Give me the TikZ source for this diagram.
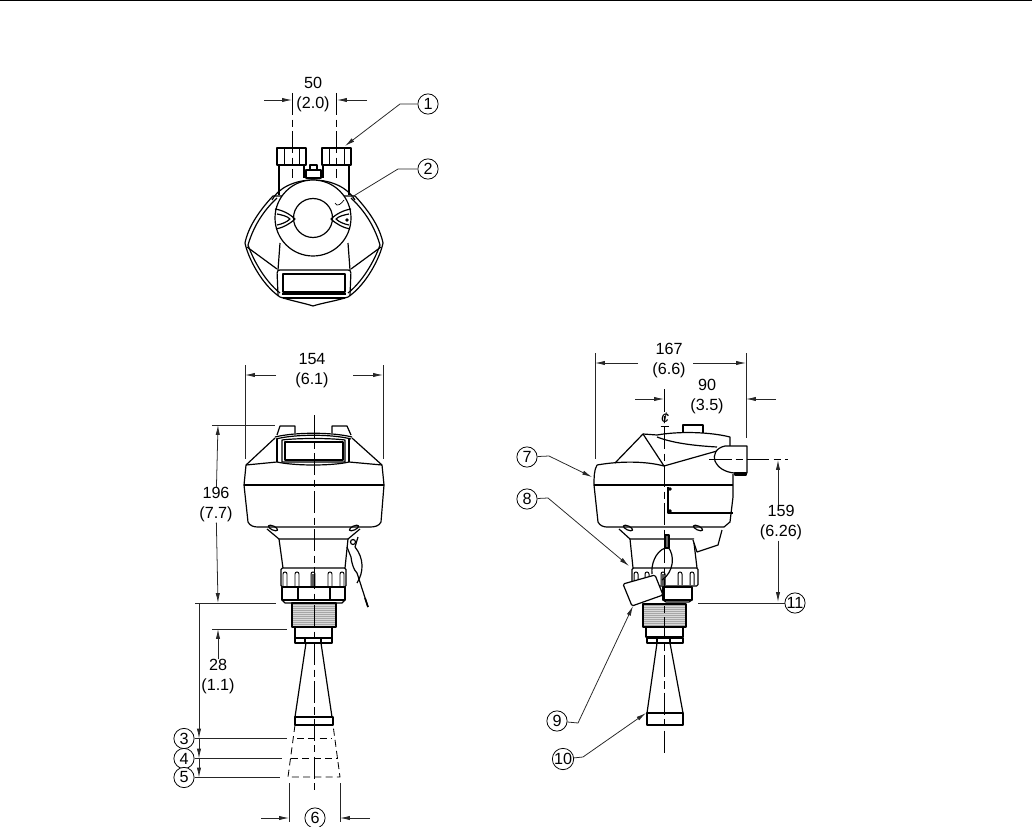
\documentclass[tikz,border=0pt]{standalone}
\usepackage{fontspec}
\setmainfont{Liberation Sans}
\usepackage{tikz}
\usetikzlibrary{arrows.meta}
\tikzstyle{num}=[shape=circle, draw, line width=0.55pt, minimum size=14.4pt, inner sep=0pt, fill=white, font=\fontsize{11.5}{12}\selectfont]
\tikzstyle{lbl}=[align=center, inner sep=0pt, font=\fontsize{11.5}{14.2}\selectfont, fill=white]
\tikzstyle{dimline}=[line width=0.55pt, black!85]
\tikzstyle{dimarrow}=[line width=0.55pt, black!85, -{Latex[length=7pt,width=3pt]}]
\tikzstyle{cline}=[line width=0.55pt, dash pattern=on 16pt off 3pt on 5pt off 3pt]
\tikzstyle{part}=[line width=0.85pt, line join=round]
\tikzstyle{ghost}=[line width=0.6pt, dash pattern=on 5pt off 3pt]

\begin{document}
\begin{tikzpicture}[x=0.025cm,y=-0.025cm]
\useasboundingbox (0,0) rectangle (1032,827);
\draw[line width=1.1pt] (0,0.6) -- (1032,0.6);

% top view
\draw[part,fill=white] (273,196) .. controls (258,212) and (248,228) .. (245,243) .. controls (248,258) and (262,285) .. (280,297) .. controls (292,301) and (304,303) .. (313,306) .. controls (322,303) and (336,301) .. (348,297) .. controls (366,285) and (380,258) .. (383,243) .. controls (380,228) and (370,212) .. (355,196) -- cycle;
\draw[part] (277,198) .. controls (262,212) and (253,228) .. (248,245) .. controls (254,262) and (266,282) .. (280,293);
\draw[part] (351,198) .. controls (366,212) and (375,228) .. (380,245) .. controls (374,262) and (362,282) .. (348,293);
\draw[part] (247,247) -- (277,269) (381,247) -- (351,269);
\draw[part] (279,195) -- (279,165) (304,178) -- (304,165);
\draw[part] (323,178) -- (323,165) (349,195) -- (349,165);
\draw[part,fill=white] (277,148) rectangle (306,165);
\draw[part,fill=white] (322,148) rectangle (351,165);
\draw[line width=0.5pt] (284,148) -- (284,165) (299,148) -- (299,165) (329,148) -- (329,165) (344,148) -- (344,165);
\draw[part,fill=white] (310,165) rectangle (317,170);
\draw[part,fill=white] (306,170) rectangle (321,178);
\draw[part] (272,200) .. controls (278,188) and (295,180) .. (313,180) .. controls (332,180) and (348,188) .. (355,200);
\draw[part] (280,243) -- (278,270) (348,243) -- (350,270);
\draw[part,rounded corners=2pt] (278,296) -- (277,270) -- (351,270) -- (350,296);
\draw[part] (283,274) -- (345,274) -- (345,292) -- (283,292) -- cycle;
\draw[line width=1.1pt] (282,294) -- (346,294);
\draw[part] (283,298) -- (345,298);
\draw[part,fill=white] (313,218) circle (38);
\draw[part,fill=white] (313,218) circle (19.5);
\draw[part] (275,209) .. controls (282,210) and (290,214) .. (295,219) .. controls (290,224) and (282,228) .. (276,229);
\draw[part] (277,214) .. controls (282,215) and (287,216) .. (290,219) .. controls (287,222) and (282,224) .. (277,225);
\draw[part] (351,209) .. controls (344,210) and (336,214) .. (331,219) .. controls (336,224) and (344,228) .. (350,229);
\draw[part] (349,214) .. controls (344,215) and (339,216) .. (336,219) .. controls (339,222) and (344,224) .. (349,225);
\fill (347,220) circle (1.8);
\draw[line width=0.5pt] (335,203) .. controls (337,208) and (342,203) .. (344,200);

\coordinate (t1) at (292,93); \coordinate (t2) at (292,178);
\coordinate (t3) at (336,93); \coordinate (t4) at (336,178);
\coordinate (t5) at (264,100); \coordinate (t6) at (292,100);
\coordinate (t7) at (367,100); \coordinate (t8) at (337,100);
\draw[cline] (t1) -- (t2);
\draw[cline] (t3) -- (t4);
\draw[dimarrow] (t5) -- (t6);
\draw[dimarrow] (t7) -- (t8);
\node (d50) [lbl,fill=none] at (313,95) {50\\(2.0)};

\node (n1) [num] at (428,104) {1};
\node (n2) [num] at (428,169) {2};
\coordinate (e1) at (345,146); \coordinate (e2) at (352,197);
\draw[dimarrow] (n1) -- (400,104) -- (e1);
\draw[dimline] (n2) -- (398,169) -- (e2);

% front view
\draw[part] (277,435) -- (280,426) -- (295,426) -- (295,433);
\draw[part] (332,433) -- (332,426) -- (347,426) -- (351,435);
\draw[part] (246,465) -- (275,438);
\draw[part] (382,465) -- (352,438);
\draw[part] (275,437) .. controls (295,432) and (332,432) .. (352,437);
\draw[part] (276,439) .. controls (295,434) and (332,434) .. (351,439);
\draw[part] (277,439) -- (277,462) (349,439) -- (349,462);
\draw[part] (282,440) .. controls (298,438) and (330,438) .. (345,440) -- (345,462) -- (282,462) -- cycle;
\draw[part] (285,442) -- (285,460) -- (343,460) -- (343,442) -- cycle;
\draw[part] (246,465) -- (277,462) .. controls (295,466) and (332,466) .. (349,462) -- (382,465);
\draw[part] (246,465) -- (244,485) -- (248,522) .. controls (250,526) and (254,527) .. (258,527) -- (370,527) .. controls (375,527) and (379,526) .. (381,522) -- (384,485) -- (382,465);
\draw[line width=1.1pt] (244,485) -- (384,485);
\draw[part] (267,529) -- (279,539) -- (348,539) -- (360,529);
\draw[part,rotate around={-25:(273,528)}] (273,528) ellipse (5 and 2);
\draw[part,rotate around={25:(354,528)}] (354,528) ellipse (5 and 2);
\draw[part] (279,539) -- (283,568) (348,539) -- (345,568);
\draw[part,fill=white,rounded corners=1pt] (281,568) rectangle (346,587);
\foreach \sx in {285,297,313,330,342} {
  \draw[line width=0.7pt] (\sx-2,586) -- (\sx-2,574) arc (180:360:2) -- (\sx+2,586);
}
\fill[black!65] (311,574) rectangle (315,586);
\draw[part,fill=white] (282,587) rectangle (345,600);
\draw[part] (298,587) -- (298,600) (330,587) -- (330,600);
\draw[part] (282,600) -- (285,603) -- (342,603) -- (345,600);
% thread
\fill[black!35] (292,603) rectangle (336,627);
\foreach \ty in {605,607,...,627} {
  \draw[line width=0.35pt,white!85!black] (292,\ty) -- (336,\ty);
}
\draw[part] (292,603) rectangle (336,627);
\draw[part] (295,627) rectangle (332,638);
\draw[part,fill=white] (295,638) rectangle (332,643);
\draw[part,fill=white] (305,638) rectangle (321,643);
\draw[part] (306,643) -- (295,717) (321,643) -- (332,717);
\draw[part] (295,717) rectangle (333,725);
% lanyard
\draw[part] (353,542) circle (2.5);
\draw[part] (358,537) -- (355,547);
\draw[part] (347,547) -- (351,557) .. controls (352,565) and (354,570) .. (357,573) -- (368,607);
\draw[line width=1.2pt] (365,598) -- (368,607);
\draw[part] (355,547) .. controls (364,558) and (364,572) .. (357,583);
% cut-off extension of the horn
\draw[ghost] (295,725) -- (288,777) -- (340,777) -- (333,725);
\draw[ghost] (297,738) -- (332,738) (291,758) -- (338,758);

\coordinate (f1) at (314,415); \coordinate (f2) at (314,793);
\draw[cline] (f1) -- (f2);
\coordinate (f3) at (245,365); \coordinate (f4) at (245,459);
\coordinate (f5) at (383,365); \coordinate (f6) at (383,459);
\coordinate (f7) at (276,375); \coordinate (f8) at (245,375);
\coordinate (f9) at (353,375); \coordinate (f10) at (383,375);
\draw[dimline] (f3) -- (f4);
\draw[dimline] (f5) -- (f6);
\draw[dimarrow] (f7) -- (f8);
\draw[dimarrow] (f9) -- (f10);
\node (d154) [lbl] at (312,371) {154\\(6.1)};

\coordinate (f11) at (212,425); \coordinate (f12) at (275,425);
\coordinate (f13) at (195,603); \coordinate (f14) at (276,603);
\coordinate (f15) at (218,425); \coordinate (f16) at (218,603);
\draw[dimline] (f11) -- (f12);
\draw[dimline] (f13) -- (f14);
\node (d196) [lbl] at (216,505) {196\\(7.7)};
\draw[dimarrow] (d196) -- (f15);
\draw[dimarrow] (d196) -- (f16);

\coordinate (f17) at (212,629); \coordinate (f18) at (287,629);
\coordinate (f19) at (218,629);
\draw[dimline] (f17) -- (f18);
\node (d28) [lbl] at (218,677) {28\\(1.1)};
\draw[dimarrow] (d28) -- (f19);

\node (n3) [num] at (184,738.5) {3};
\node (n4) [num] at (184,758.5) {4};
\node (n5) [num] at (184,777.5) {5};
\coordinate (g3) at (287,738.5); \coordinate (g4) at (282,758.5); \coordinate (g5) at (280,777.5);
\coordinate (h0) at (199,603); \coordinate (h3) at (199,738.5); \coordinate (h4) at (199,758.5); \coordinate (h5) at (199,777.5);
\draw[dimline] (n3) -- (g3);
\draw[dimline] (n4) -- (g4);
\draw[dimline] (n5) -- (g5);
\draw[dimarrow] (h0) -- (h3);
\draw[dimarrow] (h3) -- (h4);
\draw[dimarrow] (h4) -- (h5);

\node (n6) [num] at (315,818) {6};
\coordinate (k1) at (289,783); \coordinate (k2) at (289,822);
\coordinate (k3) at (340,783); \coordinate (k4) at (340,822);
\coordinate (k5) at (261,818); \coordinate (k6) at (289,818);
\coordinate (k7) at (370,818); \coordinate (k8) at (340,818);
\draw[dimline] (k1) -- (k2);
\draw[dimline] (k3) -- (k4);
\draw[dimarrow] (k5) -- (k6);
\draw[dimarrow] (k7) -- (k8);

% side view
\draw[part] (597,465) .. controls (620,461) and (645,461) .. (664,466) -- (717,451);
\draw[part] (615,463) -- (643,434) -- (664,466);
\draw[part] (643,434) -- (657,435) .. controls (680,431) and (710,432) .. (730,437) -- (730,447);
\draw[part] (657,437) .. controls (675,444) and (700,446) .. (717,447);
\draw[part] (683,433) -- (683,425) -- (703,425) -- (703,433);
\draw[part] (597,465) .. controls (594,470) and (594,478) .. (594,485) -- (598,522) .. controls (600,526) and (604,527) .. (607,527) -- (724,527) -- (730,522) -- (733,497) -- (733,474);
\draw[line width=1.1pt] (594,485) -- (733,485);
\draw[part] (619,529) -- (630,539) -- (694,539);
\draw[part,fill=white] (722,530) -- (718,545) -- (697,552) -- (693,540);
\draw[part] (630,539) -- (633,568) (694,543) -- (697,568);
\draw[part,rotate around={-25:(628,528)}] (628,528) ellipse (5 and 2);
\draw[part,rotate around={-25:(698,528)}] (698,528) ellipse (5 and 2);
\draw[part] (668,487) -- (668,513) -- (733,513);
\draw[part] (670,489) circle (1.3) (670,511) circle (1.3);
\draw[part,fill=white] (747,446) -- (725,446) .. controls (715,448) and (713,456) .. (715,461) .. controls (718,468) and (725,472) .. (734,473) -- (747,473) -- cycle;
\draw[part,fill=black!40] (735,473) rectangle (746,475);
\draw[part,fill=white,rounded corners=1pt] (632,568) rectangle (698,586);
\foreach \sx in {636,647,663,680,692} {
  \draw[line width=0.7pt] (\sx-2,585) -- (\sx-2,574) arc (180:360:2) -- (\sx+2,585);
}
\fill[black!65] (661,574) rectangle (665,585);
\draw[part,fill=white] (663,587) rectangle (692,600);
\draw[part] (663,600) -- (666,602) -- (689,602) -- (692,600);
\fill[black!35] (643,604) rectangle (686,627);
\foreach \ty in {606,608,...,627} {
  \draw[line width=0.35pt,white!85!black] (643,\ty) -- (686,\ty);
}
\draw[part] (643,604) rectangle (686,627);
\draw[part] (646,627) rectangle (683,637);
\draw[part,fill=white] (647,638) rectangle (683,643);
\draw[part,fill=white] (657,638) rectangle (670,643);
\draw[part] (657,643) -- (647,713) (670,643) -- (683,713);
\draw[part] (647,713) rectangle (683,725);

\coordinate (s1) at (664,389); \coordinate (s2) at (664,757);
\coordinate (s3) at (709,459); \coordinate (s4) at (788,459);
\draw[cline] (s1) -- (s2);
\draw[part,rounded corners=1pt,fill=white] (623,584) -- (655,575) -- (663,595) -- (632,606) -- cycle;
\draw[part,fill=black!60] (665,535) rectangle (669,548);
\draw[part] (665,548) .. controls (655,552) and (651,565) .. (652,574);
\draw[part] (668,547) .. controls (675,555) and (674,572) .. (662,580);
\draw[cline] (s3) -- (s4);
\coordinate (s5) at (595,353); \coordinate (s6) at (595,459);
\coordinate (s7) at (746,353); \coordinate (s8) at (746,438);
\coordinate (s9) at (638,363); \coordinate (s10) at (595,363);
\coordinate (s11) at (693,363); \coordinate (s12) at (746,363);
\draw[dimline] (s5) -- (s6);
\draw[dimline] (s7) -- (s8);
\draw[dimarrow] (s9) -- (s10);
\draw[dimarrow] (s11) -- (s12);
\node (d167) [lbl,fill=none] at (669,361) {167\\(6.6)};
\coordinate (s13) at (635,399); \coordinate (s14) at (664,399);
\coordinate (s15) at (776,399); \coordinate (s16) at (746,399);
\draw[dimarrow] (s13) -- (s14);
\draw[dimarrow] (s15) -- (s16);
\node (d90) [lbl,fill=none] at (707,397) {90\\(3.5)};
\node (cl) [lbl,fill=none,font=\fontsize{11}{12}\selectfont\itshape] at (665,420) {\underline{¢}};

\coordinate (s17) at (698,603); \coordinate (s18) at (786,603);
\coordinate (s19) at (778,460); \coordinate (s20) at (778,602);
\draw[dimline] (s17) -- (s18);
\node (d159) [lbl] at (781,523) {159\\(6.26)};
\draw[dimarrow] (d159.north -| s19) -- (s19);
\draw[dimarrow] (d159.south -| s19) -- (s20);

\node (n7) [num] at (527,457) {7};
\node (n8) [num] at (527,499) {8};
\node (n9) [num] at (557,721) {9};
\node (n10) [num] at (563,759) {10};
\node (n11) [num] at (795,603) {11};
\coordinate (e7) at (592,477); \coordinate (e8) at (629,566);
\coordinate (e9) at (633,606); \coordinate (e10) at (646,713);
\draw[dimarrow] (n7) -- (549,456) -- (e7);
\draw[dimarrow] (n8) -- (548,498) -- (e8);
\draw[dimarrow] (n9) -- (578,723) -- (e9);
\draw[dimarrow] (n10) -- (583,757) -- (e10);
\end{tikzpicture}
\end{document}
